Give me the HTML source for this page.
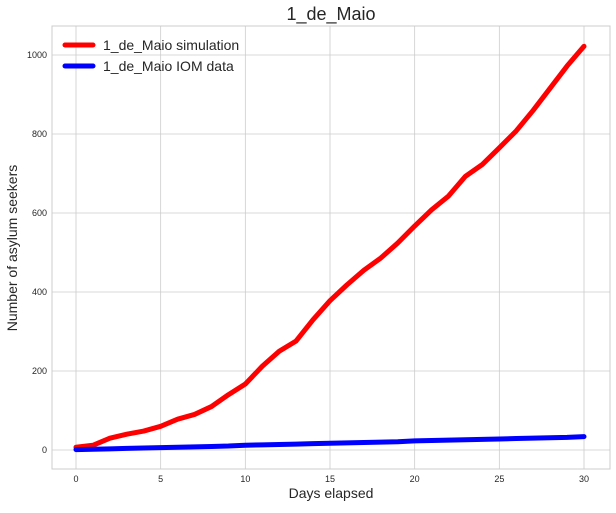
<!DOCTYPE html>
<html><head><meta charset="utf-8"><style>
body{margin:0;background:#fff;font-family:"Liberation Sans",sans-serif}
svg text{font-family:"Liberation Sans",sans-serif}
</style></head><body>
<svg id="c" width="616" height="508"></svg>
<script>
const days=[0,1,2,3,4,5,6,7,8,9,10,11,12,13,14,15,16,17,18,19,20,21,22,23,24,25,26,27,28,29,30];
const simValues=[7,12,30,40,48,60,78,90,110,140,167,212,250,276,330,378,418,455,486,524,567,608,643,693,723,765,808,860,916,972,1022];
const iomValues=[1,2,3,4,5,6,7,8,9,10,12,13,14,15,16,17,18,19,20,21,23,24,25,26,27,28,29,30,31,32,34];
const xTicks=[0,5,10,15,20,25,30];
const yTicks=[0,200,400,600,800,1000];
const ns="http://www.w3.org/2000/svg",svg=document.getElementById('c');
const L=52,R=610,T=26,B=469;
const xs=d=>76+(d-0)*(584-76)/30;
const ys=v=>450-v*(450-55)/1000;
function el(t,a,p){const e=document.createElementNS(ns,t);for(const k in a)e.setAttribute(k,a[k]);(p||svg).appendChild(e);return e;}
const bg=el('rect',{x:L,y:T,width:R-L,height:B-T,fill:'#fff'});


xTicks.forEach(t=>{const g=el('line',{x1:xs(t),x2:xs(t),y1:T,y2:B,stroke:'#cccccc','stroke-width':0.8});


const tx=el('text',{x:xs(t),y:B+13,'font-size':9,'text-anchor':'middle',fill:'#262626'});tx.textContent=t;

});
yTicks.forEach(t=>{const g=el('line',{x1:L,x2:R,y1:ys(t),y2:ys(t),stroke:'#cccccc','stroke-width':0.8});


const tx=el('text',{x:L-5,y:ys(t)+3,'font-size':9,'text-anchor':'end',fill:'#262626'});tx.textContent=t;

});
const fr=el('rect',{x:L,y:T,width:R-L,height:B-T,fill:'none',stroke:'#cccccc','stroke-width':1});


function line(vals,col,name){const p=el('polyline',{points:days.map((d,i)=>xs(d)+','+ys(vals[i])).join(' '),fill:'none',stroke:col,'stroke-width':5,'stroke-linejoin':'round','stroke-linecap':'round'});

}
line(simValues,'#ff0000','simulation-line');
line(iomValues,'#0000ff','iom-data-line');
const ti=el('text',{x:331,y:20,'font-size':18,'text-anchor':'middle',fill:'#262626'});ti.textContent='1_de_Maio';


const xl=el('text',{x:331,y:498,'font-size':14,'text-anchor':'middle',fill:'#262626'});xl.textContent='Days elapsed';


const yl=el('text',{x:17,y:248,'font-size':14,'text-anchor':'middle',fill:'#262626',transform:'rotate(-90 17 248)'});yl.textContent='Number of asylum seekers';


[['1_de_Maio simulation','#ff0000',46],['1_de_Maio IOM data','#0000ff',67]].forEach(([t,c,y])=>{
const g=el('g',{});


el('line',{x1:65,x2:93,y1:y-1,y2:y-1,stroke:c,'stroke-width':5,'stroke-linecap':'round'},g);
const tx=el('text',{x:103,y:y+4,'font-size':14,fill:'#262626'},g);tx.textContent=t;});
</script>
</body></html>
